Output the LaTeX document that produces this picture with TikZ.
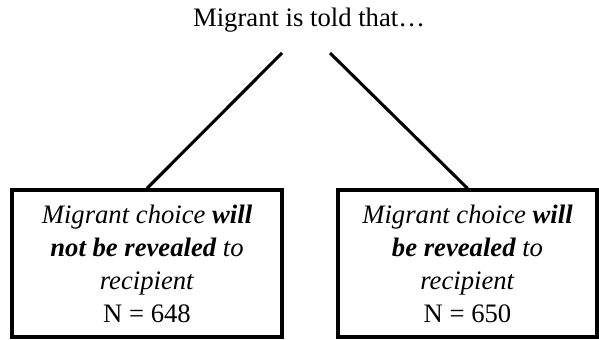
\documentclass[tikz,border=0pt]{standalone}
\usepackage{fontspec}
\setmainfont{Liberation Serif}
\def\BoxY{263.5}
\def\BoxH{110.25pt}
\tikzset{choice/.style={draw, line width=2.4pt, align=center, inner sep=0pt,
  font=\fontsize{20}{24.75}\selectfont, minimum height=\BoxH}}

\begin{document}
\begin{tikzpicture}[x=0.75pt,y=-0.75pt]
\useasboundingbox (0,0) rectangle (599,339);

\node[font=\fontsize{20}{24}\selectfont] (told) at (309,20) {Migrant is told that…};

\node[choice, minimum width=202.5pt] (hidden) at (147,\BoxY) {\textit{Migrant choice \textbf{will}}\\\textit{\textbf{not be revealed} to}\\\textit{recipient}\\N = 648};
\node[choice, minimum width=194.25pt] (shown) at (467.5,\BoxY) {\textit{Migrant choice \textbf{will}}\\\textit{\textbf{be revealed} to}\\\textit{recipient}\\N = 650};

\coordinate (toldl) at (282,53);
\coordinate (toldr) at (330,53);

\draw[line width=2.3pt] (toldl) -- (hidden.north);
\draw[line width=2.3pt] (toldr) -- (shown.north);
\end{tikzpicture}
\end{document}
